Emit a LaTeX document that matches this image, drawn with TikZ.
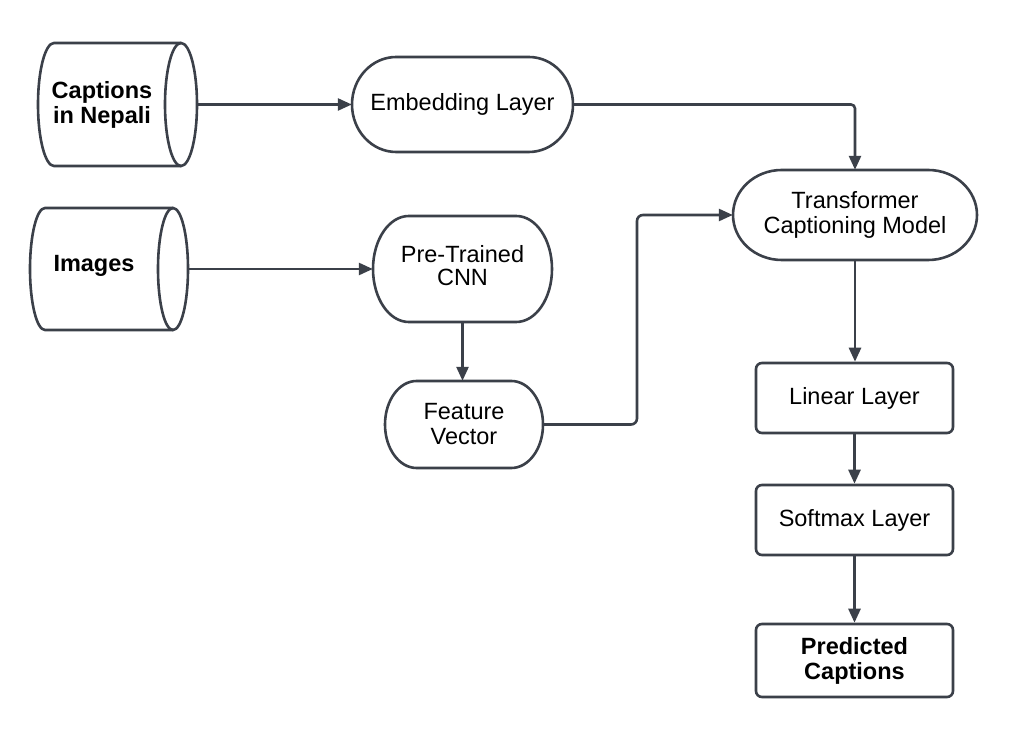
\documentclass[tikz,border=0pt]{standalone}
\usepackage{fontspec}
\setmainfont{Liberation Sans}
\usetikzlibrary{arrows.meta,calc}
\definecolor{ln}{HTML}{3B4049}
\tikzset{
  lnstyle/.style={draw=ln, line width=2.6pt},
  txt/.style={font=\fontsize{23.5}{25}\selectfont, align=center, inner sep=0pt, text=black},
  arr/.style={draw=ln, line width=2.6pt, -{Triangle[length=14pt,width=12pt]}},
  rbox/.style={draw=ln, line width=2.6pt, rounded corners=6pt, txt},
}
% name, cx, cy, w, h, text
\newcommand\mystad[6]{%
  \node[txt, minimum width=#4pt, minimum height=#5pt] (#1) at (#2,#3) {#6};
  \draw[lnstyle] ({#2-#4/2+0.2*#4},{#3+#5/2}) -- ({#2+#4/2-0.2*#4},{#3+#5/2})
     arc[start angle=90, end angle=-90, x radius={0.2*#4}, y radius={#5/2}]
     -- ({#2-#4/2+0.2*#4},{#3-#5/2})
     arc[start angle=270, end angle=90, x radius={0.2*#4}, y radius={#5/2}] -- cycle;
}
% x0, xc, rx, top, bottom
\newcommand\mycyl[5]{%
  \draw[lnstyle] (#2,#4) -- ({#1+#3},#4)
     arc[start angle=90, end angle=270, x radius=#3, y radius={(#4-#5)/2}] -- (#2,#5);
  \draw[lnstyle] (#2,{(#4+#5)/2}) ellipse [x radius=#3, y radius={(#4-#5)/2}];
}
\begin{document}
\begin{tikzpicture}[x=1pt,y=1pt]
\useasboundingbox[fill=white] (0,0) rectangle (1036,750);

% cylinders
\mycyl{38}{181}{16}{707}{584}
\node[txt, font=\fontsize{23.5}{25}\selectfont\bfseries] (cap) at (102,645.5) {Captions\\in Nepali};
\coordinate (capE) at (197,645.5);
\mycyl{30}{173}{15}{542}{420}
\node[txt, font=\fontsize{23.5}{25}\selectfont\bfseries] (img) at (94,484) {Images};
\coordinate (imgE) at (188,481);

% stadium nodes
\mystad{emb}{462.5}{645.5}{221}{95}{Embedding Layer}
\mystad{cnn}{462.5}{481}{179}{106}{\raisebox{4pt}{\begin{tabular}{@{}c@{}}Pre-Trained\\[-2pt]CNN\end{tabular}}}
\mystad{fv}{464}{325.5}{158}{87}{Feature\\Vector}
\mystad{trf}{855}{535}{244}{90}{Transformer\\Captioning Model}

% boxes
\node[rbox, minimum width=197pt, minimum height=70pt] (lin) at (854.5,352) {Linear Layer};
\node[rbox, minimum width=197pt, minimum height=70pt] (soft) at (854.5,230) {Softmax Layer};
\node[rbox, minimum width=197pt, minimum height=73pt, font=\fontsize{23.5}{25}\selectfont\bfseries] (pred) at (854.5,89.5) {Predicted\\Captions};

% connectors
\draw[arr] (capE) -- (emb.west);
\draw[arr] (imgE) -- (cnn.west |- imgE);
\draw[arr, rounded corners=4pt] (emb.east) -| (trf.north);
\draw[arr] (cnn.south) -- (cnn.south |- fv.north);
\draw[arr, rounded corners=6pt] (fv.east) -- (637,325.5) |- (trf.west);
\draw[arr] (trf.south) -- (trf.south |- lin.north);
\draw[arr] (lin.south) -- (soft.north);
\draw[arr] (soft.south) -- (pred.north);
\end{tikzpicture}
\end{document}
